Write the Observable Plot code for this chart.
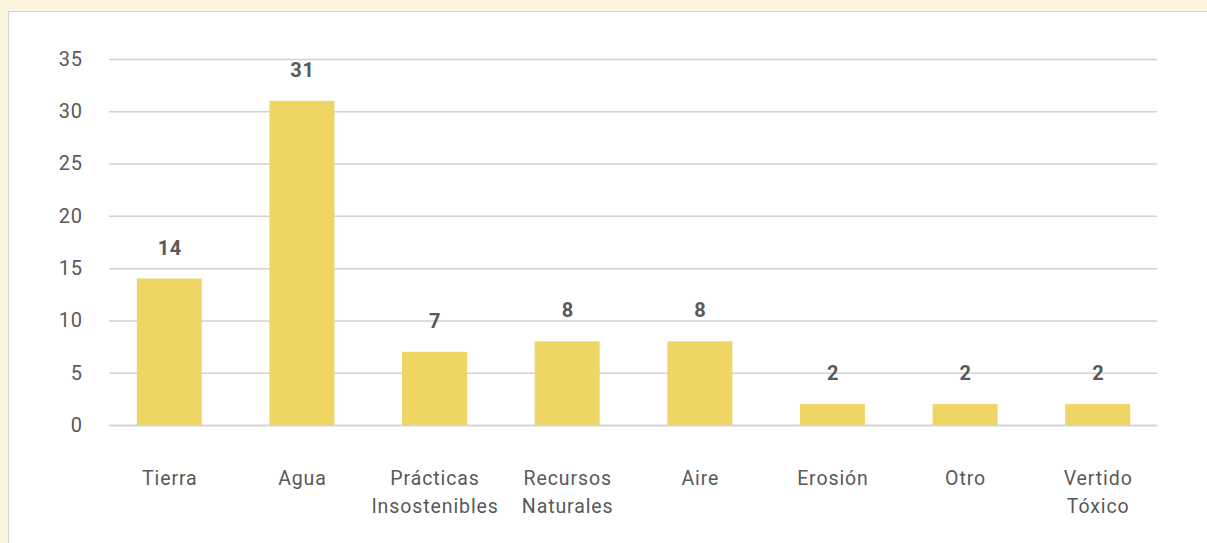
<!DOCTYPE html>
<html>
<head>
<meta charset="utf-8">
<script src="https://cdn.jsdelivr.net/npm/d3@7"></script>
<script src="https://cdn.jsdelivr.net/npm/@observablehq/plot@0.6"></script>
<style>
  html, body { margin: 0; padding: 0; background: #fcf4e1; overflow: hidden; }
  #page { position: relative; width: 1207px; height: 543px; }
  #panel { position: absolute; left: 8px; top: 11px; width: 1220px; height: 560px;
           background: #ffffff; border: 1.5px solid #d3d3d3; box-sizing: border-box; }
  #chart { position: absolute; left: 0; top: 0; }
  #chart svg { background: transparent; }
  #chart g[aria-label="x-axis tick label"] text { letter-spacing: 0.9px; }
  #chart g[aria-label="y-axis tick label"] text { letter-spacing: 0.6px; }
  #chart g.value-labels text { letter-spacing: 0.6px; }
</style>
</head>
<body>
<div id="page">
  <div id="panel"></div>
  <div id="chart"></div>
</div>
<script>
// Categories (line breaks where the label wraps) and counts per category
const categories = ["Tierra", "Agua", "Prácticas\nInsostenibles", "Recursos\nNaturales", "Aire", "Erosión", "Otro", "Vertido\nTóxico"];
const counts = [14, 31, 7, 8, 8, 2, 2, 2];
const yTicks = [0, 5, 10, 15, 20, 25, 30, 35];

const rows = categories.map((c, i) => ({category: c, value: counts[i]}));

const textColor = "#595959";
const font = "Roboto, 'DejaVu Sans', sans-serif";

const chart = Plot.plot({
  width: 1207,
  height: 543,
  marginLeft: 103,
  marginRight: 43,
  marginTop: 59,
  marginBottom: 118,
  style: {fontFamily: font, color: textColor, background: "transparent"},
  x: {domain: categories, paddingInner: 0.51, paddingOuter: 0.255, round: false, label: null},
  y: {domain: [0, 35], label: null},
  marks: [
    Plot.ruleY(yTicks, {stroke: "#d2d2d2", strokeWidth: 1.5, insetLeft: 6, insetRight: 7}),
    Plot.barY(rows, {x: "category", y: "value", fill: "#efd563"}),
    Plot.ruleY([0], {stroke: "#d2d2d2", strokeWidth: 1.5, insetLeft: 6, insetRight: 7}),
    Plot.text(rows, {x: "category", y: "value", text: d => String(d.value), dy: -31,
      fontSize: 20, fontWeight: 700, fill: textColor, className: "value-labels"}),
    Plot.axisY({ticks: yTicks, tickSize: 0, tickPadding: 21, fontSize: 20, fill: textColor}),
    Plot.axisX({tickSize: 0, tickPadding: 39, fontSize: 19.5, lineHeight: 1.45, fill: textColor})
  ]
});

document.getElementById("chart").appendChild(chart);
</script>
</body>
</html>
